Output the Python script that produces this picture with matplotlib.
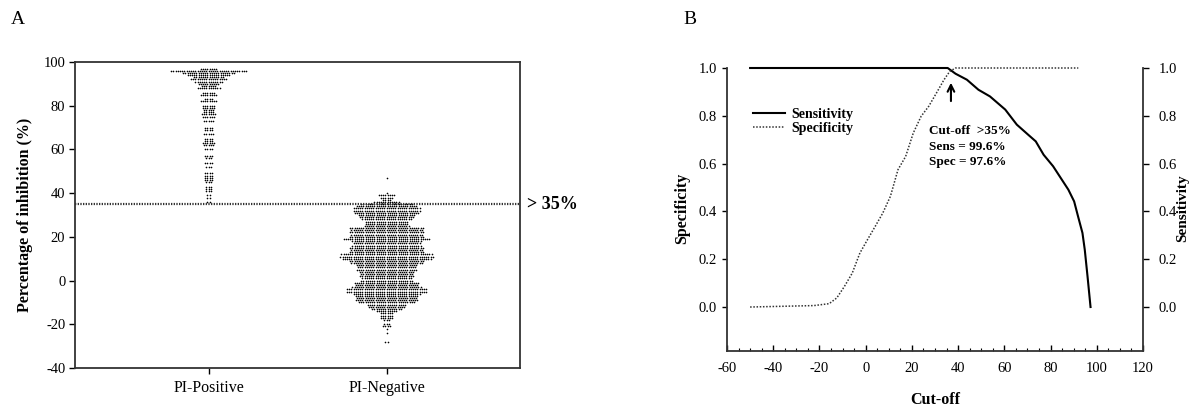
import numpy as np
import matplotlib
matplotlib.use('Agg')
import matplotlib.pyplot as plt
from matplotlib.ticker import MultipleLocator

plt.rcParams['font.family'] = ['Liberation Serif', 'DejaVu Serif']
plt.rcParams['axes.unicode_minus'] = False

# Panel A: dot rows (percentage of inhibition, number of samples in the row)
pos_levels = [97, 96, 95, 94, 93, 92, 91, 90, 89, 88, 86, 85, 83, 82, 80, 79, 78, 77,
              76, 75, 73, 70, 69, 67, 65, 64, 63, 62, 60, 57, 56, 54, 52, 49, 48, 47,
              46, 45, 43, 42, 41, 39, 38, 36]
pos_counts = [8, 35, 24, 20, 14, 17, 13, 10, 7, 11, 6, 8, 4, 8, 6, 6, 5, 5,
              7, 6, 5, 4, 4, 5, 4, 4, 6, 5, 4, 4, 3, 4, 3, 4, 4, 4,
              4, 3, 3, 3, 3, 2, 2, 2]

neg_levels = [47, 40, 39, 38, 37, 36, 35, 34, 33, 32, 31, 30, 29, 28, 27, 26, 25, 24,
              23, 22, 21, 20, 19, 18, 17, 16, 15, 14, 13, 12, 11, 10, 9, 8, 7, 6,
              5, 4, 3, 2, 1, 0, -1, -2, -3, -4, -5, -6, -7, -8, -9, -10, -11, -12,
              -13, -14, -15, -16, -17, -18, -20, -21, -22, -24, -28]
neg_counts = [1, 1, 8, 6, 4, 12, 24, 28, 31, 31, 30, 26, 25, 23, 20, 20, 21, 34,
              33, 34, 33, 34, 40, 32, 31, 32, 34, 33, 34, 42, 43, 41, 34, 33, 28, 27,
              28, 25, 24, 25, 23, 24, 30, 29, 32, 37, 37, 31, 29, 28, 29, 26, 18, 17,
              14, 10, 6, 6, 6, 3, 3, 4, 1, 1, 2]

group_names = ['PI-Positive', 'PI-Negative']
cutoff = 35

# Panel B: curves against the cut-off
sens_x = [-50, 35.5, 38.9, 43.8, 48.8, 53.8, 60.4, 65.4, 70.3, 73.6, 77.0, 81.1,
          84.4, 87.7, 90.2, 91.9, 93.8, 94.8, 96.0, 97.3]
sens_y = [1.0, 1.0, 0.976, 0.951, 0.909, 0.881, 0.826, 0.763, 0.721, 0.693, 0.637, 0.589,
          0.54, 0.491, 0.442, 0.379, 0.31, 0.24, 0.128, 0.0]
spec_x = [-50, -22.4, -15.8, -12.5, -9.2, -5.8, -2.5, 0.8, 4.1, 7.4, 10.7, 14.0,
          17.3, 20.6, 24.0, 27.3, 30.6, 33.9, 36.4, 38.9, 92]
spec_y = [0.0, 0.006, 0.014, 0.038, 0.086, 0.142, 0.226, 0.282, 0.337, 0.393, 0.463, 0.575,
          0.63, 0.728, 0.798, 0.84, 0.895, 0.951, 0.986, 1.0, 1.0]
note_lines = ['Cut-off  >35%', 'Sens = 99.6%', 'Spec = 97.6%']


def swarm(center, levels, counts, step):
    xs, ys = [], []
    for lev, n in zip(levels, counts):
        off = (np.arange(n) - (n - 1) / 2.0) * step
        xs.extend(center + off)
        ys.extend([lev] * n)
    return np.array(xs), np.array(ys)


W, H = 1192, 408
fig = plt.figure(figsize=(W / 100, H / 100), dpi=100)
fig.patch.set_facecolor('white')

# ---------------- panel A
axA = fig.add_axes([75 / W, 1 - 368 / H, 445 / W, 306 / H])
step = 2.2 / 178.0
for i, (lv, ct) in enumerate([(pos_levels, pos_counts), (neg_levels, neg_counts)]):
    x, y = swarm(i + 1, lv, ct, step)
    axA.scatter(x, y, s=1.4, marker='o', c='black', linewidths=0)
axA.axhline(cutoff, color='#333333', lw=1.6, linestyle=(0, (0.6, 0.6)))
axA.set_xlim(0.25, 2.75)
axA.set_ylim(-40, 100)
axA.set_xticks([1, 2])
axA.set_xticklabels(group_names, fontsize=11.5)
axA.yaxis.set_major_locator(MultipleLocator(20))
axA.tick_params(axis='y', labelsize=10.5, length=4, width=1, pad=3)
axA.tick_params(axis='x', length=4, width=1, pad=5)
for sp in axA.spines.values():
    sp.set_linewidth(1.3)
    sp.set_color('#333333')
axA.set_ylabel('Percentage of inhibition (%)', fontsize=11.5, fontweight='bold')
axA.yaxis.set_label_coords(-0.094, 0.5)
axA.text(1.015, (cutoff + 40) / 140.0, '> 35%', transform=axA.transAxes,
         fontsize=13, fontweight='bold', va='center', ha='left')
fig.text(11 / W, 1 - 20 / H, 'A', fontsize=14, va='center', ha='left')

# ---------------- panel B
axB = fig.add_axes([727 / W, 1 - 351 / H, 416 / W, 283 / H])
axB.plot(sens_x, sens_y, color='black', lw=1.5, label='Sensitivity', clip_on=False)
axB.plot(spec_x, spec_y, color='#333333', lw=1.1, linestyle=(0, (1, 1.1)),
         label='Specificity', clip_on=False)
axB.set_xlim(-60, 120)
axB.set_ylim(-0.184, 1.0)
axB.xaxis.set_major_locator(MultipleLocator(20))
axB.xaxis.set_minor_locator(MultipleLocator(5))
axB.set_yticks([0, 0.2, 0.4, 0.6, 0.8, 1.0])
axB.set_yticklabels(['0.0', '0.2', '0.4', '0.6', '0.8', '1.0'])
axB.spines['top'].set_visible(False)
axB.spines['right'].set_visible(False)
for s in ['left', 'bottom']:
    axB.spines[s].set_linewidth(1.3)
    axB.spines[s].set_color('#333333')
axB.tick_params(axis='y', labelsize=10.5, length=3.6, width=1, pad=3.5)
axB.tick_params(axis='x', which='major', direction='in', labelsize=10.5, length=4, width=1, pad=8)
axB.tick_params(axis='x', which='minor', direction='in', length=2.5, width=0.8)
axB.set_ylabel('Specificity', fontsize=11.5, fontweight='bold')
axB.yaxis.set_label_coords(-0.089, 0.505)
axB.set_xlabel('Cut-off', fontsize=11.5, fontweight='bold')
axB.xaxis.set_label_coords(0.5, -0.145)

axR = axB.twinx()
axR.set_ylim(-0.184, 1.0)
axR.set_yticks([0, 0.2, 0.4, 0.6, 0.8, 1.0])
axR.set_yticklabels(['0.0', '0.2', '0.4', '0.6', '0.8', '1.0'])
for s in ['top', 'left', 'bottom']:
    axR.spines[s].set_visible(False)
axR.spines['right'].set_linewidth(1.3)
axR.spines['right'].set_color('#333333')
axR.tick_params(axis='y', labelsize=10.5, length=4, width=1, pad=7.5)
axR.set_ylabel('Sensitivity', fontsize=11, fontweight='bold')
axR.yaxis.set_label_coords(1.079, 0.505)

leg = axB.legend(loc='upper left', bbox_to_anchor=(0.062, 0.86), frameon=False,
                 prop={'weight': 'bold', 'size': 10}, handlelength=2.3,
                 handletextpad=0.45, labelspacing=0.12, borderpad=0, borderaxespad=0)

axB.annotate('', xy=(36.9, 0.95), xytext=(36.9, 0.85),
             arrowprops=dict(arrowstyle='->', lw=1.5, color='black',
                             mutation_scale=12))
for k, t in enumerate(note_lines):
    axB.text(27.6, 0.735 - k * 0.064, t, fontsize=9.5, fontweight='bold',
             ha='left', va='center')
fig.text(683 / W, 1 - 20 / H, 'B', fontsize=14, va='center', ha='left')

fig.savefig('out.png', dpi=100, facecolor='white')
